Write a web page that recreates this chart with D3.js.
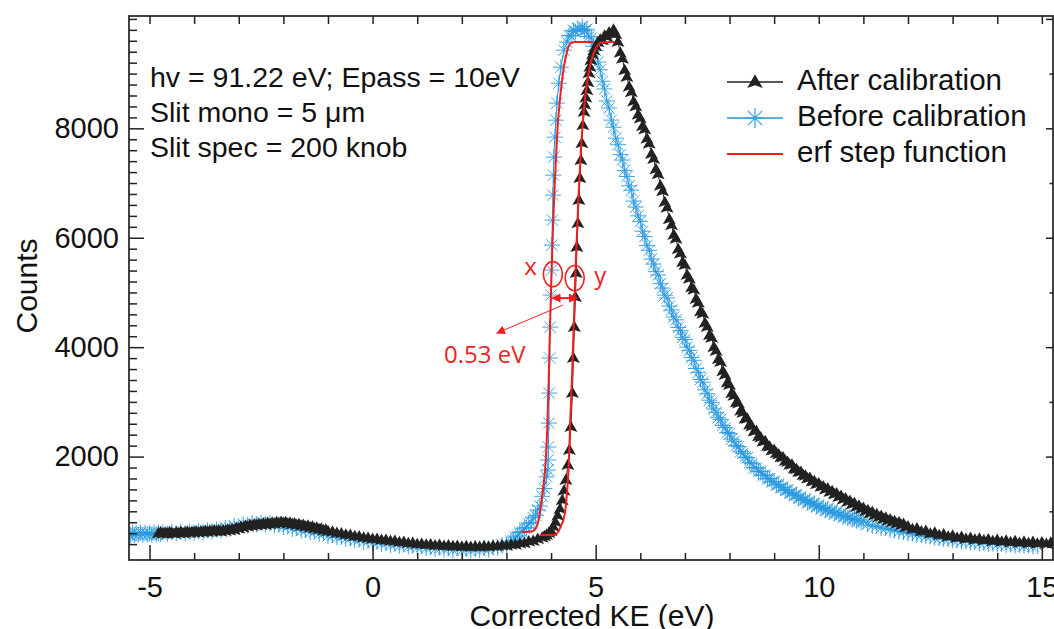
<!DOCTYPE html>
<html><head><meta charset="utf-8">
<script src="https://cdn.jsdelivr.net/npm/d3@7"></script>
<style>
body{margin:0;background:#fff}
svg{display:block}
text{font-family:"Liberation Sans",Arial,sans-serif}
</style>
</head><body>
<svg id="chart" width="1054" height="629"></svg>
<script>
// ---------------- DATA ----------------
// After calibration: [Corrected KE (eV), Counts]
const afterData = [
[-4.8,598],[-4.75,612],[-4.7,590],[-4.65,606],[-4.6,588],[-4.55,618],[-4.5,604],[-4.45,592],[-4.4,614],[-4.35,600],[-4.3,622],[-4.25,598],[-4.2,610],[-4.15,628],[-4.1,604],[-4.05,624],[-4.0,612],[-3.95,632],[-3.9,608],[-3.85,630],[-3.8,618],[-3.75,640],[-3.7,620],[-3.65,644],[-3.6,626],[-3.55,648],[-3.5,630],[-3.45,652],[-3.4,628],[-3.35,656],[-3.3,640],[-3.25,664],[-3.2,648],[-3.15,676],[-3.1,660],[-3.05,694],[-3.0,680],[-2.95,716],[-2.9,700],[-2.85,734],[-2.8,718],[-2.75,748],[-2.7,730],[-2.65,760],[-2.6,742],[-2.55,768],[-2.5,748],[-2.45,778],[-2.4,756],[-2.35,784],[-2.3,762],[-2.25,792],[-2.2,770],[-2.15,800],[-2.1,776],[-2.05,806],[-2.0,784],[-1.95,802],[-1.9,772],[-1.85,790],[-1.8,762],[-1.75,776],[-1.7,748],[-1.65,764],[-1.6,736],[-1.55,748],[-1.5,718],[-1.45,734],[-1.4,706],[-1.35,716],[-1.3,686],[-1.25,700],[-1.2,670],[-1.15,680],[-1.1,650],[-1.05,664],[-1.0,636],[-0.9,626],[-0.8,604],[-0.7,596],[-0.6,572],[-0.5,566],[-0.4,542],[-0.3,540],[-0.2,516],[-0.1,514],[0.0,494],[0.1,494],[0.2,474],[0.3,474],[0.4,456],[0.5,456],[0.6,436],[0.7,438],[0.8,418],[0.9,420],[1.0,400],[1.1,404],[1.2,388],[1.3,392],[1.4,376],[1.5,382],[1.6,368],[1.7,374],[1.8,360],[1.9,368],[2.0,352],[2.1,362],[2.2,348],[2.3,358],[2.4,348],[2.5,362],[2.6,352],[2.7,368],[2.8,360],[2.9,376],[3.0,370],[3.1,390],[3.2,388],[3.3,412],[3.4,418],[3.5,446],[3.6,458],[3.7,492],[3.8,516],[3.85,546],[3.9,566],[3.95,604],[4.0,638],[4.05,718],[4.1,802],[4.15,918],[4.2,1042],[4.25,1204],[4.29,1378],
[4.332,1572],[4.377,1846],[4.41,2120],[4.444,2540],[4.478,3161],[4.50,3801],[4.523,4367],[4.545,4915],[4.563,5354],[4.579,5829],[4.601,6267],[4.624,6688],[4.646,7090],[4.668,7418],[4.691,7729],[4.713,8058],[4.74,8300],[4.758,8430],[4.78,8560],[4.803,8697],[4.825,8840],[4.848,9008],[4.87,9120],[4.893,9246],[4.93,9350],[4.96,9428],[5.0,9500],[5.05,9575],[5.1,9620],[5.15,9610],[5.2,9690],[5.25,9670],[5.3,9750],[5.35,9730],[5.4,9800],
[5.45,9720],[5.5,9580],[5.55,9380],[5.6,9270],[5.65,9060],[5.7,8940],[5.75,8760],[5.8,8660],[5.85,8490],[5.9,8400],[5.95,8250],[6.0,8180],[6.05,8040],[6.1,7980],[6.15,7810],[6.2,7720],[6.25,7530],[6.3,7440],[6.35,7250],[6.4,7160],[6.45,6950],[6.5,6850],[6.55,6650],[6.6,6550],[6.65,6340],[6.7,6230],[6.75,6050],[6.8,5980],[6.85,5790],[6.9,5710],[6.95,5550],[7.0,5500],[7.05,5320],[7.1,5250],[7.15,5090],[7.2,5050],[7.25,4880],[7.3,4810],[7.35,4650],[7.4,4610],[7.45,4440],[7.5,4370],[7.55,4220],[7.6,4170],[7.65,4000],[7.7,3930],[7.75,3780],[7.8,3730],[7.85,3560],[7.9,3490],[7.95,3350],[8.0,3310],[8.05,3160],[8.1,3110],[8.15,2990],[8.2,2970],[8.25,2840],[8.3,2800],[8.35,2690],[8.4,2690],[8.45,2580],[8.5,2550],[8.55,2460],[8.6,2470],[8.65,2370],[8.7,2350],[8.75,2270],[8.8,2280],[8.85,2190],[8.9,2180],[8.95,2110],[9.0,2120],
[9.05,2060],[9.1,2040],[9.15,1990],[9.2,1985],[9.25,1920],[9.3,1900],[9.35,1850],[9.4,1850],[9.45,1780],[9.5,1770],[9.55,1720],[9.6,1720],[9.65,1660],[9.7,1650],[9.75,1600],[9.8,1610],[9.85,1545],[9.9,1550],[9.95,1495],[10.0,1510],[10.05,1450],[10.1,1455],[10.15,1400],[10.2,1415],[10.25,1355],[10.3,1365],[10.35,1310],[10.4,1325],[10.45,1260],[10.5,1280],[10.55,1215],[10.6,1235],[10.65,1170],[10.7,1190],[10.75,1125],[10.8,1145],[10.85,1080],[10.9,1100],[10.95,1040],[11.0,1060],[11.05,1000],[11.1,1020],[11.15,960],[11.2,985],[11.25,925],[11.3,945],[11.35,890],[11.4,912],[11.45,858],[11.5,880],[11.55,828],[11.6,850],[11.65,798],[11.7,820],[11.75,772],[11.8,794],[11.85,746],[11.9,768],[11.95,705],[12.0,724],
[12.1,672],[12.2,684],[12.3,630],[12.4,642],[12.5,592],[12.6,606],[12.7,562],[12.8,578],[12.9,536],[13.0,552],[13.1,514],[13.2,532],[13.3,494],[13.4,514],[13.5,478],[13.6,500],[13.7,466],[13.8,486],[13.9,452],[14.0,474],[14.1,442],[14.2,464],[14.3,432],[14.4,454],[14.5,422],[14.6,444],[14.7,414],[14.8,438],[14.9,408],[15.0,432],[15.1,402],[15.2,426],[15.25,410]
];
// Before calibration: [Corrected KE (eV), Counts]
const beforeData = [
[-5.46,585],[-5.42,556],[-5.38,610],[-5.34,566],[-5.3,604],[-5.25,572],[-5.2,612],[-5.15,570],[-5.1,606],[-5.05,578],[-5.0,598],[-4.95,574],[-4.9,614],[-4.85,580],[-4.8,602],[-4.75,586],[-4.7,618],[-4.6,588],[-4.5,620],[-4.4,592],[-4.3,626],[-4.2,598],[-4.1,632],[-4.0,606],[-3.9,640],[-3.8,614],[-3.7,652],[-3.6,630],[-3.5,670],[-3.4,650],[-3.3,698],[-3.2,682],[-3.1,734],[-3.0,716],[-2.9,764],[-2.8,742],[-2.7,786],[-2.6,760],[-2.5,796],[-2.4,760],[-2.3,786],[-2.2,744],[-2.1,760],[-2.0,712],[-1.9,728],[-1.8,680],[-1.7,696],[-1.6,648],[-1.5,664],[-1.4,616],[-1.3,632],[-1.2,584],[-1.1,600],[-1.0,552],[-0.9,568],[-0.8,522],[-0.7,540],[-0.6,494],[-0.5,512],[-0.4,468],[-0.3,488],[-0.2,444],[-0.1,466],[0.0,424],[0.1,446],[0.2,404],[0.3,426],[0.4,386],[0.5,410],[0.6,370],[0.7,394],[0.8,354],[0.9,378],[1.0,336],[1.1,362],[1.2,324],[1.3,350],[1.4,312],[1.5,338],[1.6,302],[1.7,330],[1.8,292],[1.9,320],[2.0,286],[2.1,316],[2.2,284],[2.3,318],[2.4,290],[2.5,328],[2.6,304],[2.7,346],[2.8,334],[2.9,384],[3.0,384],[3.1,452],[3.15,470],[3.2,528],[3.25,548],[3.3,612],[3.35,626],[3.4,690],[3.45,706],[3.5,772],[3.55,796],[3.6,884],[3.65,920],[3.7,1024],[3.75,1096],[3.8,1274],[3.85,1416],[3.9,1630],
[3.929,1754],[3.935,1937],[3.94,2175],[3.951,2613],[3.958,3161],[3.969,3801],[3.98,4367],[3.996,4952],[4.007,5409],[4.018,5866],[4.03,6322],[4.041,6779],[4.052,7144],[4.063,7473],[4.086,7839],[4.108,8149],[4.13,8460],[4.175,8825],[4.22,9118],[4.287,9428],[4.355,9575],[4.4,9700],[4.45,9690],[4.5,9790],[4.55,9770],[4.6,9820],[4.65,9800],[4.7,9860],[4.75,9790],[4.8,9810],[4.85,9680],[4.9,9650],
[4.95,9500],[5.0,9420],[5.05,9210],[5.1,9070],[5.15,8860],[5.2,8720],[5.25,8500],[5.3,8370],[5.35,8150],[5.4,8020],[5.45,7820],[5.5,7700],[5.55,7520],[5.6,7420],[5.65,7230],[5.7,7120],[5.75,6950],[5.8,6870],[5.85,6670],[5.9,6560],[5.95,6400],[6.0,6300],[6.05,6120],[6.1,6020],[6.15,5860],[6.2,5770],[6.25,5610],[6.3,5520],[6.35,5380],[6.4,5320],[6.45,5160],[6.5,5080],[6.55,4950],[6.6,4900],[6.65,4750],[6.7,4680],[6.75,4550],[6.8,4500],[6.85,4360],[6.9,4300],[6.95,4180],[7.0,4140],[7.05,4000],[7.1,3940],[7.15,3810],[7.2,3760],[7.25,3610],[7.3,3540],[7.35,3410],[7.4,3360],[7.45,3220],[7.5,3150],[7.55,3030],[7.6,2990],[7.65,2870],[7.7,2810],[7.75,2710],[7.8,2680],[7.85,2570],[7.9,2530],[7.95,2440],[8.0,2420],[8.05,2320],[8.1,2280],[8.15,2200],[8.2,2180],[8.25,2090],[8.3,2060],[8.35,1990],[8.4,1980],[8.45,1890],[8.5,1870],
[8.55,1800],[8.6,1790],[8.65,1730],[8.7,1725],[8.75,1660],[8.8,1660],[8.85,1595],[8.9,1600],[8.95,1535],[9.0,1545],[9.05,1480],[9.1,1490],[9.15,1430],[9.2,1440],[9.25,1380],[9.3,1392],[9.35,1330],[9.4,1345],[9.45,1285],[9.5,1300],[9.55,1240],[9.6,1258],[9.65,1200],[9.7,1218],[9.75,1160],[9.8,1180],[9.85,1122],[9.9,1142],[9.95,1086],[10.0,1106],[10.05,1052],[10.1,1072],[10.15,1020],[10.2,1040],[10.25,990],[10.3,1008],[10.35,960],[10.4,978],[10.45,930],[10.5,950],[10.55,902],[10.6,922],[10.65,876],[10.7,894],[10.75,850],[10.8,868],[10.85,826],[10.9,844],[10.95,802],[11.0,820],
[11.1,766],[11.2,736],[11.3,726],[11.4,696],[11.5,690],[11.6,662],[11.7,656],[11.8,630],[11.9,624],[12.0,598],[12.1,594],[12.2,570],[12.3,566],[12.4,542],[12.5,540],[12.6,516],[12.7,514],[12.8,492],[12.9,492],[13.0,470],[13.1,472],[13.2,450],[13.3,454],[13.4,434],[13.5,438],[13.6,418],[13.7,424],[13.8,406],[13.9,412],[14.0,394],[14.1,402],[14.2,384],[14.3,392],[14.4,374],[14.5,384],[14.6,366],[14.7,376],[14.8,358],[14.9,366]
];
// erf step function fits
const fitBefore = [
[3.339,627],[3.563,631],[3.675,718],[3.749,969],[3.817,1389],[3.877,1882],[3.913,2485],[3.947,3399],[3.974,4312],[4.007,5226],[4.041,6140],[4.086,7053],[4.142,7967],[4.209,8606],[4.276,9063],[4.355,9392],[4.444,9556],[4.556,9580],[4.937,9580]
];
const fitAfter = [
[3.749,567],[4.086,567],[4.198,689],[4.310,963],[4.361,1389],[4.399,1882],[4.428,2608],[4.467,3399],[4.512,4495],[4.556,5591],[4.612,6688],[4.668,7601],[4.735,8332],[4.814,8880],[4.904,9246],[5.016,9483],[5.139,9575],[5.430,9580]
];
const xTickLabels = [-5, 0, 5, 10, 15];
const yTickLabels = [2000, 4000, 6000, 8000];
const seriesNames = ["After calibration", "Before calibration", "erf step function"];
const infoLines = ["hv = 91.22 eV; Epass = 10eV", "Slit mono = 5 μm", "Slit spec = 200 knob"];
// annotation anchors (data units)
const markX = {ke: 4.04, counts: 5336};
const markY = {ke: 4.53, counts: 5263};
const gapArrow = {from: 4.03, to: 4.58, counts: 4897};
const pointer = {from: [4.265, 4769], to: [2.786, 4258]};

// ---------------- STYLE ----------------
const BLUE = "#2594d8", BLACK = "#222222", RED = "#f01e1e";
const M = {l: 129, t: 16, r: 1053, b: 560};

const svg = d3.select("#chart");
const x = d3.scaleLinear().domain([-5.46, 15.25]).range([M.l, M.r]);
const y = d3.scaleLinear().domain([110, 10053]).range([M.b, M.t]);

const defs = svg.append("defs");
defs.append("clipPath").attr("id", "plotclip")
  .append("rect").attr("x", M.l).attr("y", M.t).attr("width", M.r - M.l).attr("height", M.b - M.t);
defs.append("marker").attr("id", "ah").attr("viewBox", "0 0 10 10").attr("refX", 9).attr("refY", 5)
  .attr("markerWidth", 9).attr("markerHeight", 9).attr("markerUnits", "userSpaceOnUse").attr("orient", "auto-start-reverse")
  .append("path").attr("d", "M0,0L10,5L0,10Z").attr("fill", RED);

const plot = svg.append("g").attr("clip-path", "url(#plotclip)");
const line = d3.line().x(d => x(d[0])).y(d => y(d[1]));

const asterisk = "M-8,0L8,0M0,-8L0,8M-5.7,-5.7L5.7,5.7M-5.7,5.7L5.7,-5.7";
const tri = "M0,-6.5L6.5,5L0,2.8L-6.5,5Z";

// Before calibration
plot.append("path").datum(beforeData).attr("d", line).attr("fill", "none").attr("stroke", BLUE).attr("stroke-width", 1);
plot.append("g").selectAll("path").data(beforeData).join("path")
  .attr("transform", d => `translate(${x(d[0])},${y(d[1])})`)
  .attr("d", asterisk).attr("fill", "none").attr("stroke", "#2a9ae0").attr("stroke-width", 1).attr("stroke-opacity", 0.9);

// After calibration
plot.append("path").datum(afterData).attr("d", line).attr("fill", "none").attr("stroke", BLACK).attr("stroke-width", 1);
plot.append("g").selectAll("path").data(afterData).join("path")
  .attr("transform", d => `translate(${x(d[0])},${y(d[1])})`)
  .attr("d", tri).attr("fill", BLACK);

// Fits
const curve = d3.line().x(d => x(d[0])).y(d => y(d[1])).curve(d3.curveMonotoneX);
[fitBefore, fitAfter].forEach(f => {
  plot.append("path").datum(f).attr("d", curve).attr("fill", "none").attr("stroke", RED).attr("stroke-width", 2);
});

// Annotations
const ann = svg.append("g");
[markX, markY].forEach(p => {
  ann.append("ellipse").attr("cx", x(p.ke)).attr("cy", y(p.counts)).attr("rx", 9.5).attr("ry", 12.5)
    .attr("fill", "none").attr("stroke", RED).attr("stroke-width", 1.6);
});
ann.append("line").attr("x1", x(gapArrow.from)).attr("x2", x(gapArrow.to))
  .attr("y1", y(gapArrow.counts)).attr("y2", y(gapArrow.counts))
  .attr("stroke", RED).attr("stroke-width", 2)
  .attr("marker-start", "url(#ah)").attr("marker-end", "url(#ah)");
ann.append("line").attr("x1", x(pointer.from[0])).attr("y1", y(pointer.from[1]))
  .attr("x2", x(pointer.to[0])).attr("y2", y(pointer.to[1]))
  .attr("stroke", RED).attr("stroke-width", 1).attr("marker-end", "url(#ah)");
const redFont = "'Open Sans','Noto Sans',sans-serif";
ann.append("text").attr("x", x(3.40)).attr("y", y(5317)).text("x")
  .attr("fill", RED).attr("font-size", 24).style("font-family", redFont);
ann.append("text").attr("x", x(4.97)).attr("y", y(5160)).text("y")
  .attr("fill", RED).attr("font-size", 24).style("font-family", redFont);
ann.append("text").attr("x", x(1.60)).attr("y", y(3710)).text("0.53 eV")
  .attr("fill", RED).attr("font-size", 24).style("font-family", redFont);

// Info text
svg.append("g").selectAll("text").data(infoLines).join("text")
  .attr("x", 150).attr("y", (d, i) => 87 + i * 35).attr("font-size", 28.5).attr("fill", "#111").text(d => d);

// Legend
const lg = svg.append("g");
seriesNames.forEach((name, i) => {
  const cy = 82 + i * 36;
  const col = i === 0 ? BLACK : i === 1 ? BLUE : RED;
  lg.append("line").attr("x1", 727).attr("x2", 783).attr("y1", cy).attr("y2", cy)
    .attr("stroke", col).attr("stroke-width", i === 2 ? 2 : 1.3);
  if (i === 0) lg.append("path").attr("transform", `translate(755,${cy}) scale(1.2)`).attr("d", tri).attr("fill", BLACK);
  if (i === 1) lg.append("path").attr("transform", `translate(755,${cy}) scale(1.25)`).attr("d", asterisk)
    .attr("fill", "none").attr("stroke", "#3aa2e2").attr("stroke-width", 1);
  lg.append("text").attr("x", 797).attr("y", cy + 8).attr("font-size", 29.5).attr("fill", "#111").text(name);
});

// Axes
function styleAxis(g) {
  g.select(".domain").remove();
  g.selectAll(".tick line").attr("stroke", BLACK).attr("stroke-width", 1.5);
  g.attr("font-size", 29).attr("font-family", "'Liberation Sans',Arial,sans-serif");
  g.selectAll(".tick text").attr("fill", "#111");
}
const minorX = d3.range(-5, 16, 1).filter(v => !xTickLabels.includes(v));
const minorY = d3.range(400, 10001, 200).filter(v => !yTickLabels.includes(v));

svg.append("g").attr("transform", `translate(0,${M.b})`)
  .call(d3.axisBottom(x).tickValues(minorX).tickSize(-7).tickFormat("")).call(styleAxis);
svg.append("g").attr("transform", `translate(0,${M.b})`)
  .call(d3.axisBottom(x).tickValues(xTickLabels).tickSize(-15).tickPadding(16).tickFormat(d => d)).call(styleAxis);
svg.append("g").attr("transform", `translate(0,${M.t})`)
  .call(d3.axisTop(x).tickValues(d3.range(-5, 16, 1)).tickSize(-8).tickFormat("")).call(styleAxis);

svg.append("g").attr("transform", `translate(${M.l},0)`)
  .call(d3.axisLeft(y).tickValues(minorY).tickSize(-8).tickFormat("")).call(styleAxis);
svg.append("g").attr("transform", `translate(${M.l},0)`)
  .call(d3.axisLeft(y).tickValues(yTickLabels).tickSize(-15).tickPadding(10).tickFormat(d => d)).call(styleAxis);
svg.append("g").attr("transform", `translate(${M.r},0)`)
  .call(d3.axisRight(y).tickValues(d3.range(1000, 10001, 1000)).tickSize(0).tickFormat("")).call(styleAxis)
  .selectAll(".tick line").attr("x2", d => d % 2000 === 0 ? -7 : -3.5);

svg.append("rect").attr("x", M.l).attr("y", M.t).attr("width", M.r - M.l).attr("height", M.b - M.t)
  .attr("fill", "none").attr("stroke", BLACK).attr("stroke-width", 1.7);

// Axis titles
svg.append("text").attr("x", 592).attr("y", 626).attr("text-anchor", "middle").attr("font-size", 30).attr("fill", "#111")
  .text("Corrected KE (eV)");
svg.append("text").attr("transform", "translate(37,286) rotate(-90)").attr("text-anchor", "middle")
  .attr("font-size", 30).attr("fill", "#111").text("Counts");
</script>
</body></html>
